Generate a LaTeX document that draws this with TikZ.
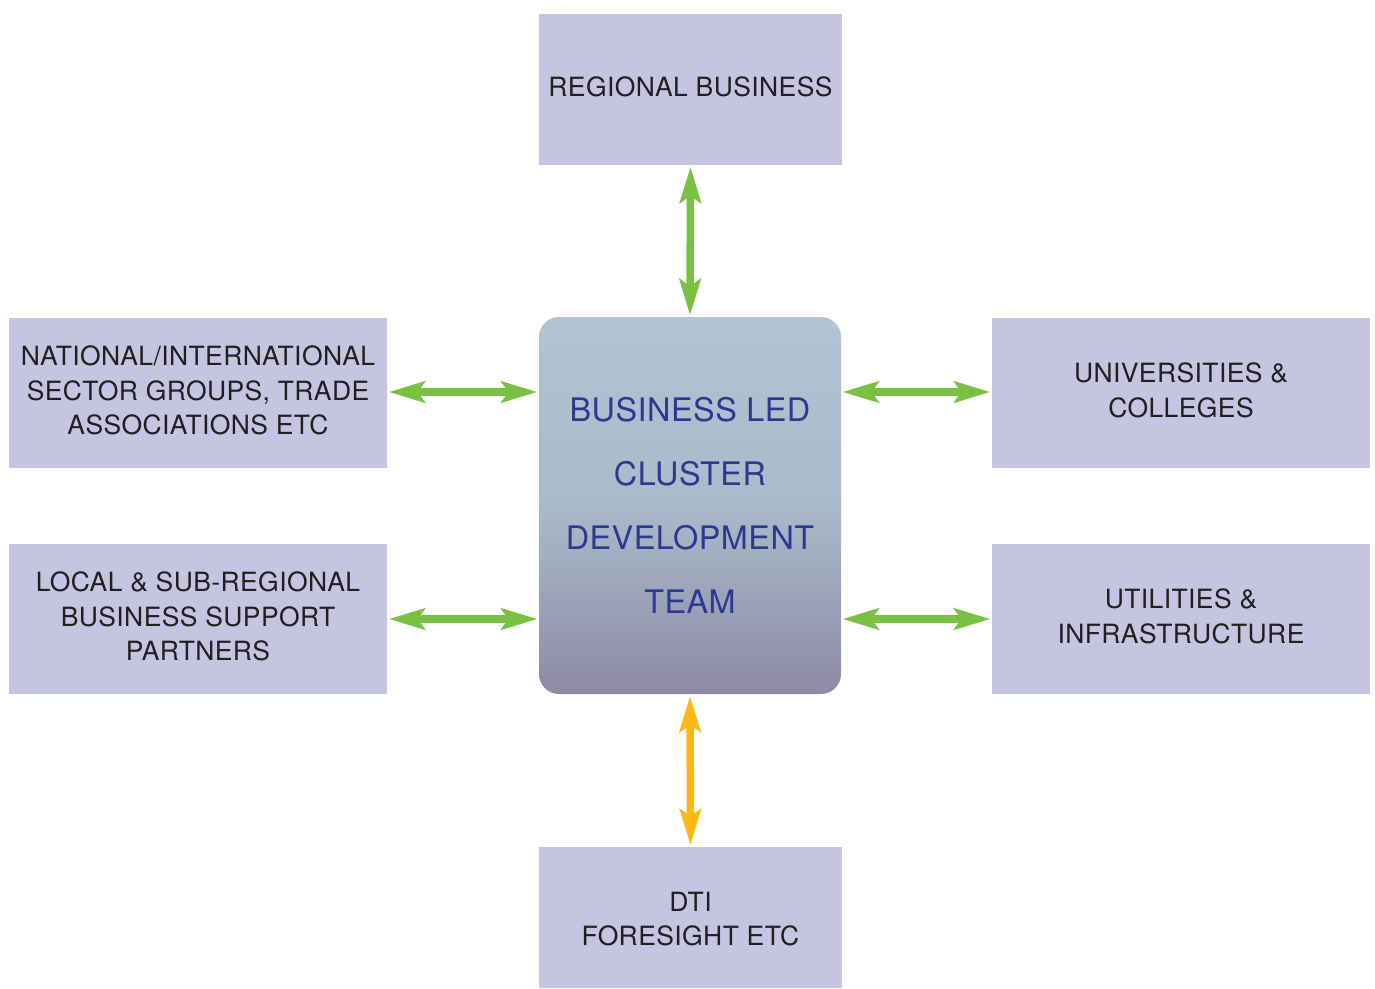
\documentclass[tikz,border=0pt]{standalone}
\usepackage{fontspec}
\setmainfont{TeX Gyre Heros}[LetterSpace=1.5]
\usetikzlibrary{arrows.meta,positioning}
\definecolor{boxfill}{HTML}{C5C5E2}
\definecolor{boxtext}{HTML}{231F20}
\definecolor{arrgreen}{HTML}{7AC143}
\definecolor{arrorange}{HTML}{FDB913}
\definecolor{centertext}{HTML}{2B3990}
\definecolor{ctop}{HTML}{B2C4D3}
\definecolor{cmid}{HTML}{A9BACA}
\definecolor{cbot}{HTML}{8E8AA4}
\tikzset{
  partner/.style={fill=boxfill, draw=none, align=center, text=boxtext,
    font=\fontsize{26.5}{34.5}\selectfont, inner sep=0pt},
  core/.style={draw=none, rounded corners=20pt, top color=ctop, bottom color=cbot, middle color=cmid,
    minimum width=302pt, minimum height=377pt, align=center, text=centertext,
    font=\fontsize{32.4}{64}\selectfont, inner sep=0pt},
  link/.style={line width=7.5pt, {Stealth[length=36pt,width=21pt,inset=7pt]}-{Stealth[length=36pt,width=21pt,inset=7pt]}, shorten <=1.5pt, shorten >=1.5pt},
}
\begin{document}
\begin{tikzpicture}[x=1pt,y=-1pt]
\useasboundingbox (0,0) rectangle (1375,988);
\node[partner, minimum width=303pt, minimum height=151pt] (reg) at (690.5,89.5) {REGIONAL BUSINESS\vphantom{g}};
\node[partner, minimum width=378pt, minimum height=150pt] (nat) at (198,393) {NATIONAL/INTERNATIONAL\\SECTOR GROUPS, TRADE\\ASSOCIATIONS ETC\vphantom{g}};
\node[partner, minimum width=378pt, minimum height=150pt] (loc) at (198,619) {LOCAL \& SUB-REGIONAL\\BUSINESS SUPPORT\\PARTNERS\vphantom{g}};
\node[partner, minimum width=378pt, minimum height=150pt] (uni) at (1181,393) {UNIVERSITIES \&\\COLLEGES\vphantom{g}};
\node[partner, minimum width=378pt, minimum height=150pt] (uti) at (1181,619) {UTILITIES \&\\INFRASTRUCTURE\vphantom{g}};
\node[partner, minimum width=303pt, minimum height=141pt] (dti) at (690.5,917.5) {};
\node[partner, fill=none] (dtitext) at (690.5,921.5) {DTI\\FORESIGHT ETC\vphantom{g}};
\node[core] (team) at (690,505.5) {BUSINESS LED\\CLUSTER\\DEVELOPMENT\\TEAM};
\coordinate (tl) at (539,392);
\coordinate (tl2) at (539,619);
\coordinate (tr) at (841,392);
\coordinate (tr2) at (841,619);
\draw[link, arrgreen] (reg.south) -- (team.north);
\draw[link, arrgreen] (nat.east |- tl) -- (tl);
\draw[link, arrgreen] (loc.east |- tl2) -- (tl2);
\draw[link, arrgreen] (tr) -- (uni.west |- tr);
\draw[link, arrgreen] (tr2) -- (uti.west |- tr2);
\draw[link, arrorange] (team.south) -- (dti.north);
\end{tikzpicture}
\end{document}
